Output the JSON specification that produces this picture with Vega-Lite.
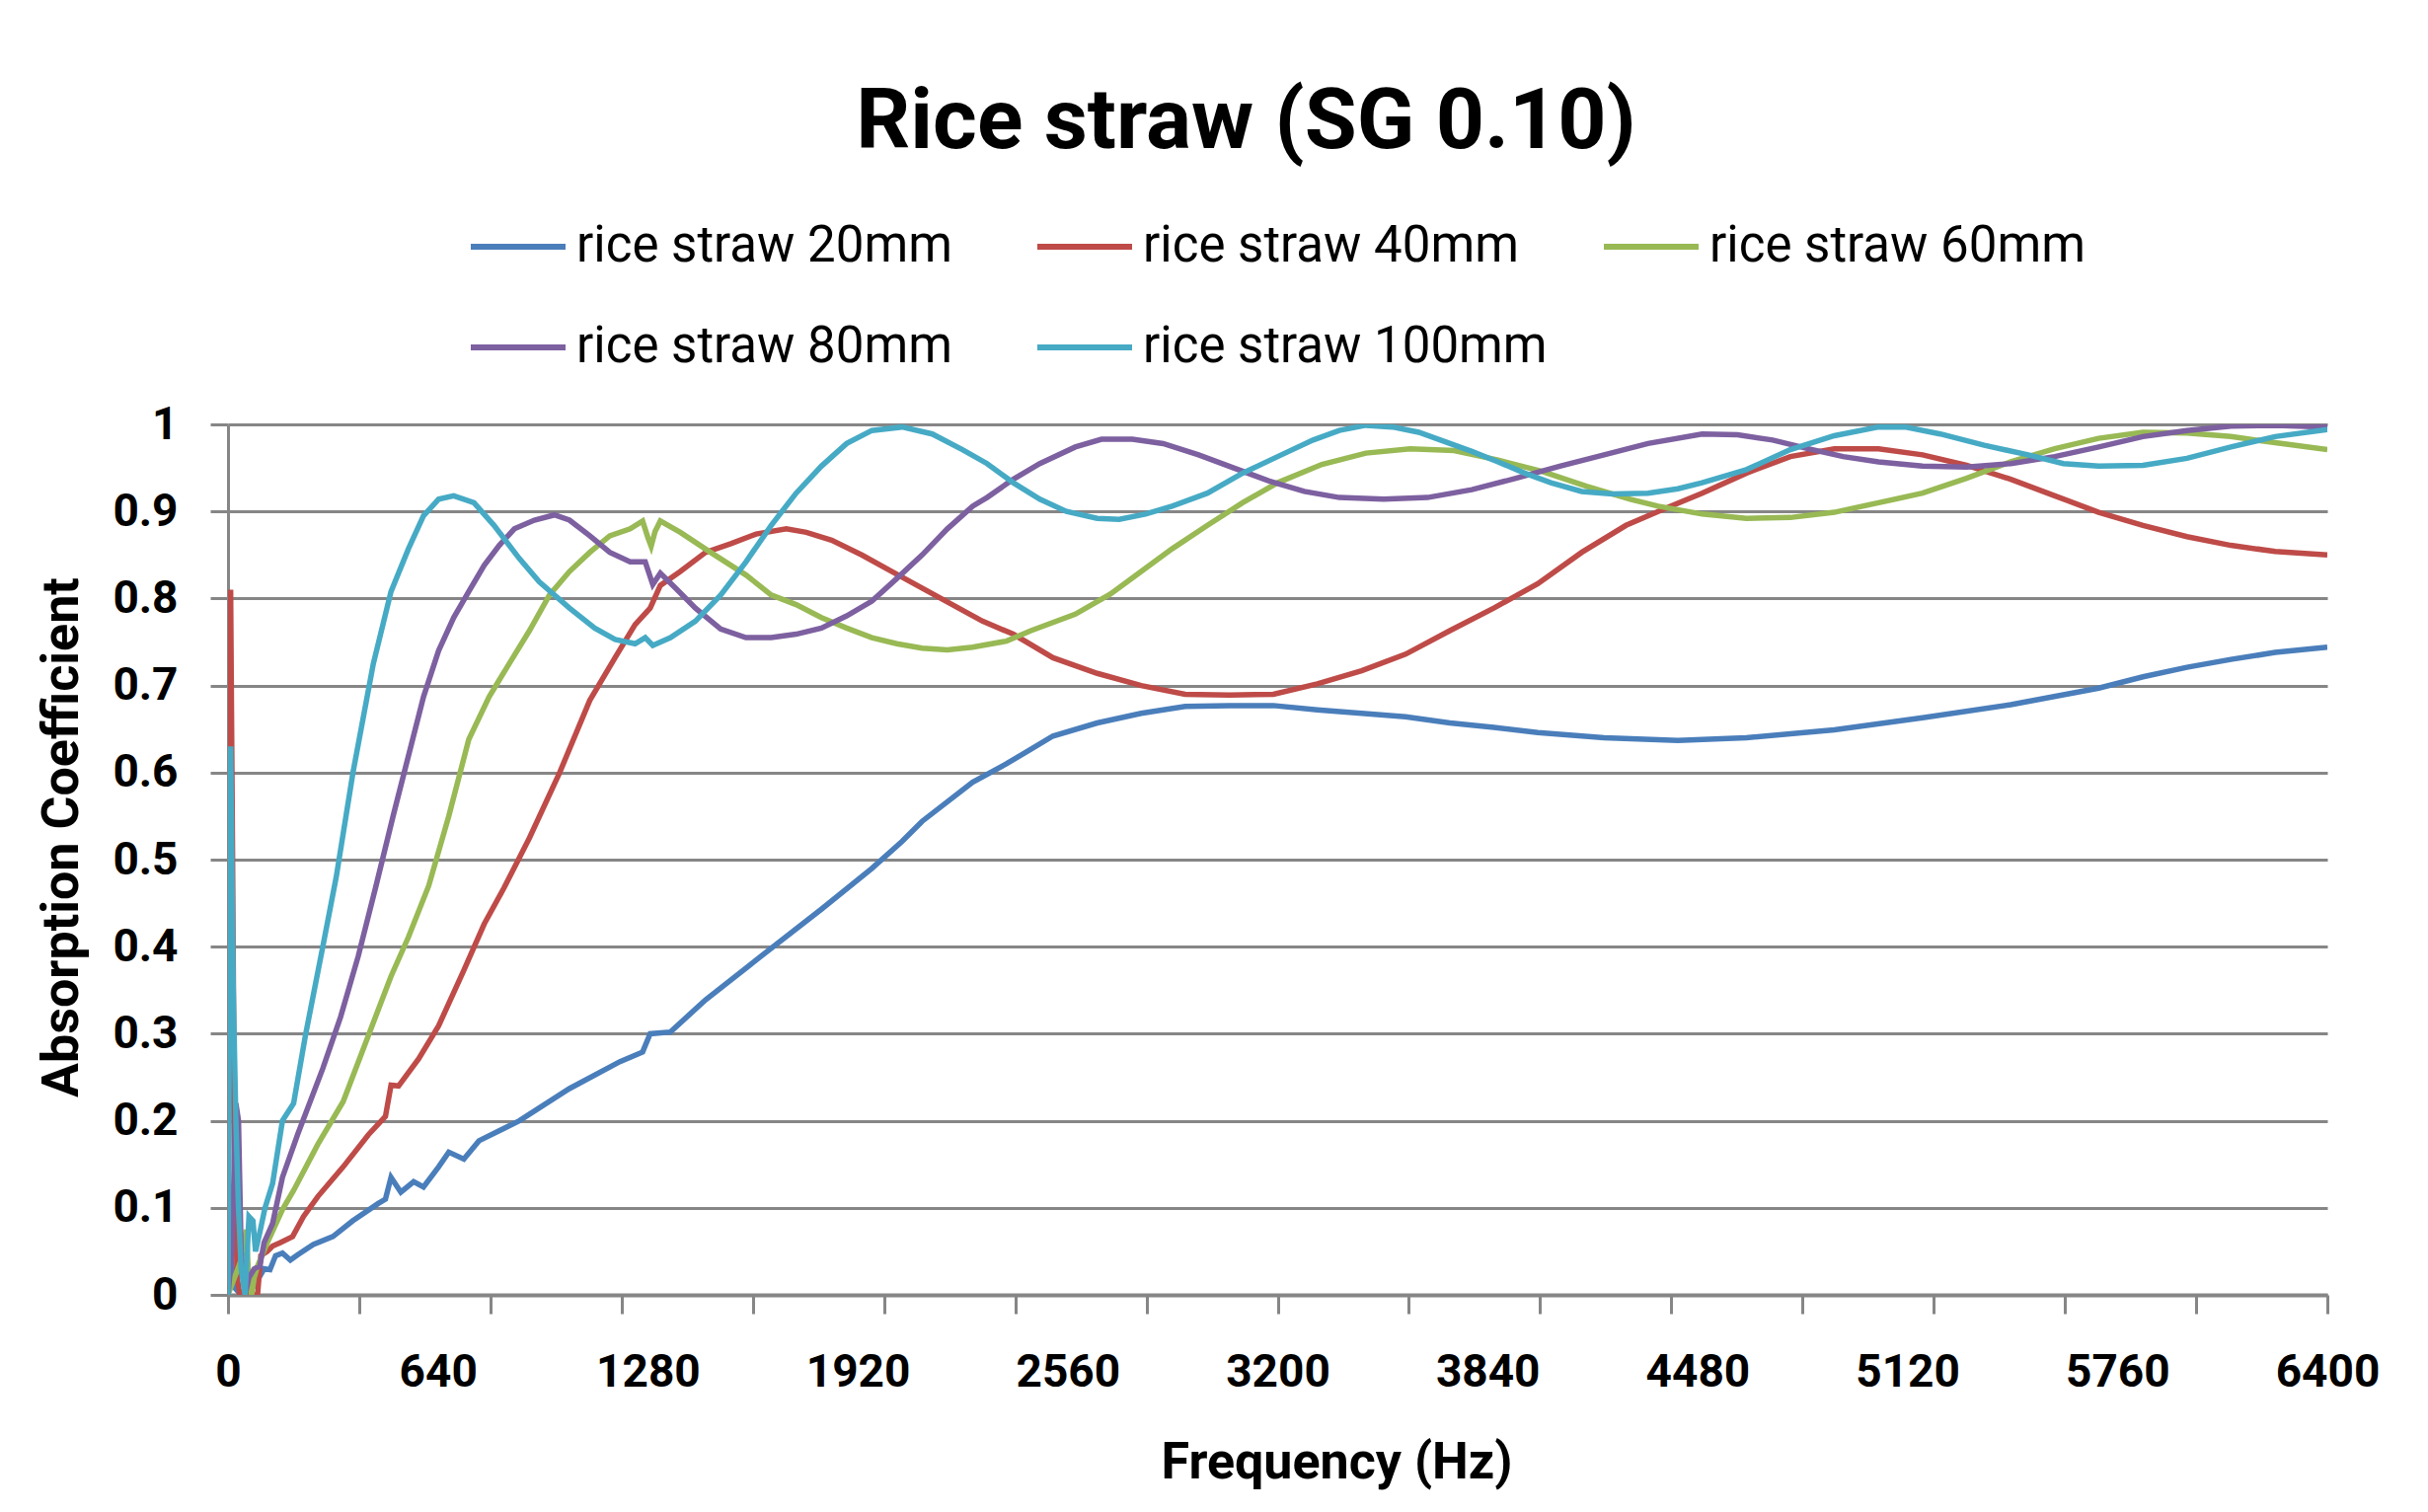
{
 "$schema": "https://vega.github.io/schema/vega-lite/v6.json",
 "width": 2127, "height": 882,
 "autosize": {"type": "none"},
 "padding": {"left": 231, "top": 430, "right": 102, "bottom": 220},
 "background": "white",
 "title": {"text": "Rice straw (SG 0.10)", "font": "Roboto", "fontSize": 86, "fontWeight": "bold", "color": "black", "anchor": "middle", "frame": "group", "dx": -32, "offset": -37, "baseline": "alphabetic"},
 "data": {"values": [
  {"s":"rice straw 20mm","f":0,"a":0},{"s":"rice straw 20mm","f":8,"a":0.06},{"s":"rice straw 20mm","f":16,"a":0.01},{"s":"rice straw 20mm","f":40,"a":0},{"s":"rice straw 20mm","f":80,"a":0.01},{"s":"rice straw 20mm","f":110,"a":0.03},{"s":"rice straw 20mm","f":128,"a":0.029},{"s":"rice straw 20mm","f":145,"a":0.045},{"s":"rice straw 20mm","f":166,"a":0.048},{"s":"rice straw 20mm","f":190,"a":0.04},{"s":"rice straw 20mm","f":212,"a":0.046},{"s":"rice straw 20mm","f":260,"a":0.058},{"s":"rice straw 20mm","f":320,"a":0.067},{"s":"rice straw 20mm","f":380,"a":0.085},{"s":"rice straw 20mm","f":458,"a":0.105},{"s":"rice straw 20mm","f":480,"a":0.11},{"s":"rice straw 20mm","f":497,"a":0.135},{"s":"rice straw 20mm","f":527,"a":0.118},{"s":"rice straw 20mm","f":566,"a":0.13},{"s":"rice straw 20mm","f":596,"a":0.124},{"s":"rice straw 20mm","f":642,"a":0.147},{"s":"rice straw 20mm","f":673,"a":0.164},{"s":"rice straw 20mm","f":719,"a":0.156},{"s":"rice straw 20mm","f":765,"a":0.177},{"s":"rice straw 20mm","f":888,"a":0.2},{"s":"rice straw 20mm","f":1041,"a":0.237},{"s":"rice straw 20mm","f":1195,"a":0.268},{"s":"rice straw 20mm","f":1264,"a":0.279},{"s":"rice straw 20mm","f":1287,"a":0.3},{"s":"rice straw 20mm","f":1349,"a":0.302},{"s":"rice straw 20mm","f":1456,"a":0.339},{"s":"rice straw 20mm","f":1625,"a":0.389},{"s":"rice straw 20mm","f":1809,"a":0.443},{"s":"rice straw 20mm","f":1963,"a":0.49},{"s":"rice straw 20mm","f":2055,"a":0.521},{"s":"rice straw 20mm","f":2116,"a":0.544},{"s":"rice straw 20mm","f":2270,"a":0.589},{"s":"rice straw 20mm","f":2373,"a":0.61},{"s":"rice straw 20mm","f":2515,"a":0.642},{"s":"rice straw 20mm","f":2650,"a":0.657},{"s":"rice straw 20mm","f":2784,"a":0.668},{"s":"rice straw 20mm","f":2918,"a":0.676},{"s":"rice straw 20mm","f":3053,"a":0.677},{"s":"rice straw 20mm","f":3187,"a":0.677},{"s":"rice straw 20mm","f":3321,"a":0.672},{"s":"rice straw 20mm","f":3456,"a":0.668},{"s":"rice straw 20mm","f":3590,"a":0.664},{"s":"rice straw 20mm","f":3725,"a":0.657},{"s":"rice straw 20mm","f":3859,"a":0.652},{"s":"rice straw 20mm","f":3993,"a":0.646},{"s":"rice straw 20mm","f":4195,"a":0.64},{"s":"rice straw 20mm","f":4420,"a":0.637},{"s":"rice straw 20mm","f":4629,"a":0.64},{"s":"rice straw 20mm","f":4897,"a":0.649},{"s":"rice straw 20mm","f":5166,"a":0.663},{"s":"rice straw 20mm","f":5435,"a":0.678},{"s":"rice straw 20mm","f":5703,"a":0.697},{"s":"rice straw 20mm","f":5838,"a":0.71},{"s":"rice straw 20mm","f":5972,"a":0.721},{"s":"rice straw 20mm","f":6106,"a":0.73},{"s":"rice straw 20mm","f":6241,"a":0.738},{"s":"rice straw 20mm","f":6400,"a":0.744},

  {"s":"rice straw 40mm","f":0,"a":0},{"s":"rice straw 40mm","f":8,"a":0.81},{"s":"rice straw 40mm","f":14,"a":0.5},{"s":"rice straw 40mm","f":20,"a":0.15},{"s":"rice straw 40mm","f":28,"a":0.02},{"s":"rice straw 40mm","f":36,"a":0},{"s":"rice straw 40mm","f":90,"a":0},{"s":"rice straw 40mm","f":100,"a":0.045},{"s":"rice straw 40mm","f":120,"a":0.05},{"s":"rice straw 40mm","f":136,"a":0.056},{"s":"rice straw 40mm","f":160,"a":0.06},{"s":"rice straw 40mm","f":197,"a":0.067},{"s":"rice straw 40mm","f":230,"a":0.09},{"s":"rice straw 40mm","f":274,"a":0.113},{"s":"rice straw 40mm","f":351,"a":0.147},{"s":"rice straw 40mm","f":428,"a":0.184},{"s":"rice straw 40mm","f":480,"a":0.205},{"s":"rice straw 40mm","f":497,"a":0.241},{"s":"rice straw 40mm","f":520,"a":0.24},{"s":"rice straw 40mm","f":581,"a":0.271},{"s":"rice straw 40mm","f":642,"a":0.309},{"s":"rice straw 40mm","f":719,"a":0.373},{"s":"rice straw 40mm","f":781,"a":0.426},{"s":"rice straw 40mm","f":842,"a":0.468},{"s":"rice straw 40mm","f":919,"a":0.525},{"s":"rice straw 40mm","f":1011,"a":0.6},{"s":"rice straw 40mm","f":1103,"a":0.683},{"s":"rice straw 40mm","f":1180,"a":0.732},{"s":"rice straw 40mm","f":1241,"a":0.77},{"s":"rice straw 40mm","f":1287,"a":0.789},{"s":"rice straw 40mm","f":1318,"a":0.815},{"s":"rice straw 40mm","f":1379,"a":0.831},{"s":"rice straw 40mm","f":1456,"a":0.853},{"s":"rice straw 40mm","f":1533,"a":0.863},{"s":"rice straw 40mm","f":1610,"a":0.874},{"s":"rice straw 40mm","f":1702,"a":0.88},{"s":"rice straw 40mm","f":1763,"a":0.876},{"s":"rice straw 40mm","f":1840,"a":0.867},{"s":"rice straw 40mm","f":1932,"a":0.85},{"s":"rice straw 40mm","f":2024,"a":0.831},{"s":"rice straw 40mm","f":2116,"a":0.812},{"s":"rice straw 40mm","f":2208,"a":0.793},{"s":"rice straw 40mm","f":2300,"a":0.774},{"s":"rice straw 40mm","f":2394,"a":0.759},{"s":"rice straw 40mm","f":2515,"a":0.732},{"s":"rice straw 40mm","f":2650,"a":0.714},{"s":"rice straw 40mm","f":2784,"a":0.7},{"s":"rice straw 40mm","f":2918,"a":0.69},{"s":"rice straw 40mm","f":3053,"a":0.689},{"s":"rice straw 40mm","f":3187,"a":0.69},{"s":"rice straw 40mm","f":3321,"a":0.702},{"s":"rice straw 40mm","f":3456,"a":0.717},{"s":"rice straw 40mm","f":3590,"a":0.736},{"s":"rice straw 40mm","f":3725,"a":0.763},{"s":"rice straw 40mm","f":3859,"a":0.789},{"s":"rice straw 40mm","f":3993,"a":0.817},{"s":"rice straw 40mm","f":4127,"a":0.853},{"s":"rice straw 40mm","f":4262,"a":0.884},{"s":"rice straw 40mm","f":4360,"a":0.9},{"s":"rice straw 40mm","f":4494,"a":0.921},{"s":"rice straw 40mm","f":4629,"a":0.944},{"s":"rice straw 40mm","f":4763,"a":0.963},{"s":"rice straw 40mm","f":4897,"a":0.972},{"s":"rice straw 40mm","f":5032,"a":0.972},{"s":"rice straw 40mm","f":5166,"a":0.965},{"s":"rice straw 40mm","f":5300,"a":0.953},{"s":"rice straw 40mm","f":5435,"a":0.937},{"s":"rice straw 40mm","f":5569,"a":0.918},{"s":"rice straw 40mm","f":5703,"a":0.899},{"s":"rice straw 40mm","f":5838,"a":0.884},{"s":"rice straw 40mm","f":5972,"a":0.871},{"s":"rice straw 40mm","f":6106,"a":0.861},{"s":"rice straw 40mm","f":6241,"a":0.854},{"s":"rice straw 40mm","f":6400,"a":0.85},

  {"s":"rice straw 60mm","f":0,"a":0},{"s":"rice straw 60mm","f":20,"a":0.02},{"s":"rice straw 60mm","f":40,"a":0.04},{"s":"rice straw 60mm","f":56,"a":0.075},{"s":"rice straw 60mm","f":64,"a":0.01},{"s":"rice straw 60mm","f":72,"a":0},{"s":"rice straw 60mm","f":80,"a":0.02},{"s":"rice straw 60mm","f":90,"a":0.033},{"s":"rice straw 60mm","f":120,"a":0.06},{"s":"rice straw 60mm","f":166,"a":0.098},{"s":"rice straw 60mm","f":200,"a":0.12},{"s":"rice straw 60mm","f":274,"a":0.173},{"s":"rice straw 60mm","f":351,"a":0.222},{"s":"rice straw 60mm","f":428,"a":0.298},{"s":"rice straw 60mm","f":497,"a":0.366},{"s":"rice straw 60mm","f":550,"a":0.411},{"s":"rice straw 60mm","f":612,"a":0.47},{"s":"rice straw 60mm","f":673,"a":0.55},{"s":"rice straw 60mm","f":734,"a":0.638},{"s":"rice straw 60mm","f":796,"a":0.687},{"s":"rice straw 60mm","f":857,"a":0.725},{"s":"rice straw 60mm","f":919,"a":0.763},{"s":"rice straw 60mm","f":980,"a":0.804},{"s":"rice straw 60mm","f":1041,"a":0.831},{"s":"rice straw 60mm","f":1103,"a":0.853},{"s":"rice straw 60mm","f":1164,"a":0.872},{"s":"rice straw 60mm","f":1226,"a":0.88},{"s":"rice straw 60mm","f":1264,"a":0.889},{"s":"rice straw 60mm","f":1280,"a":0.87},{"s":"rice straw 60mm","f":1290,"a":0.86},{"s":"rice straw 60mm","f":1302,"a":0.877},{"s":"rice straw 60mm","f":1318,"a":0.889},{"s":"rice straw 60mm","f":1379,"a":0.876},{"s":"rice straw 60mm","f":1471,"a":0.853},{"s":"rice straw 60mm","f":1579,"a":0.827},{"s":"rice straw 60mm","f":1656,"a":0.804},{"s":"rice straw 60mm","f":1732,"a":0.793},{"s":"rice straw 60mm","f":1809,"a":0.778},{"s":"rice straw 60mm","f":1886,"a":0.766},{"s":"rice straw 60mm","f":1963,"a":0.755},{"s":"rice straw 60mm","f":2039,"a":0.748},{"s":"rice straw 60mm","f":2116,"a":0.743},{"s":"rice straw 60mm","f":2193,"a":0.741},{"s":"rice straw 60mm","f":2270,"a":0.744},{"s":"rice straw 60mm","f":2373,"a":0.751},{"s":"rice straw 60mm","f":2448,"a":0.763},{"s":"rice straw 60mm","f":2583,"a":0.782},{"s":"rice straw 60mm","f":2690,"a":0.805},{"s":"rice straw 60mm","f":2784,"a":0.831},{"s":"rice straw 60mm","f":2878,"a":0.857},{"s":"rice straw 60mm","f":2986,"a":0.884},{"s":"rice straw 60mm","f":3093,"a":0.91},{"s":"rice straw 60mm","f":3200,"a":0.933},{"s":"rice straw 60mm","f":3335,"a":0.954},{"s":"rice straw 60mm","f":3469,"a":0.967},{"s":"rice straw 60mm","f":3604,"a":0.972},{"s":"rice straw 60mm","f":3738,"a":0.97},{"s":"rice straw 60mm","f":3872,"a":0.959},{"s":"rice straw 60mm","f":4006,"a":0.946},{"s":"rice straw 60mm","f":4141,"a":0.929},{"s":"rice straw 60mm","f":4275,"a":0.914},{"s":"rice straw 60mm","f":4360,"a":0.906},{"s":"rice straw 60mm","f":4494,"a":0.897},{"s":"rice straw 60mm","f":4629,"a":0.892},{"s":"rice straw 60mm","f":4763,"a":0.893},{"s":"rice straw 60mm","f":4897,"a":0.899},{"s":"rice straw 60mm","f":5032,"a":0.91},{"s":"rice straw 60mm","f":5166,"a":0.921},{"s":"rice straw 60mm","f":5300,"a":0.938},{"s":"rice straw 60mm","f":5435,"a":0.957},{"s":"rice straw 60mm","f":5569,"a":0.972},{"s":"rice straw 60mm","f":5703,"a":0.984},{"s":"rice straw 60mm","f":5838,"a":0.991},{"s":"rice straw 60mm","f":5972,"a":0.99},{"s":"rice straw 60mm","f":6106,"a":0.986},{"s":"rice straw 60mm","f":6241,"a":0.979},{"s":"rice straw 60mm","f":6400,"a":0.971},

  {"s":"rice straw 80mm","f":0,"a":0},{"s":"rice straw 80mm","f":12,"a":0.05},{"s":"rice straw 80mm","f":24,"a":0.22},{"s":"rice straw 80mm","f":32,"a":0.2},{"s":"rice straw 80mm","f":40,"a":0.05},{"s":"rice straw 80mm","f":52,"a":0},{"s":"rice straw 80mm","f":64,"a":0.02},{"s":"rice straw 80mm","f":80,"a":0.03},{"s":"rice straw 80mm","f":97,"a":0.033},{"s":"rice straw 80mm","f":110,"a":0.06},{"s":"rice straw 80mm","f":136,"a":0.082},{"s":"rice straw 80mm","f":166,"a":0.135},{"s":"rice straw 80mm","f":212,"a":0.184},{"s":"rice straw 80mm","f":289,"a":0.26},{"s":"rice straw 80mm","f":343,"a":0.319},{"s":"rice straw 80mm","f":397,"a":0.389},{"s":"rice straw 80mm","f":450,"a":0.468},{"s":"rice straw 80mm","f":504,"a":0.551},{"s":"rice straw 80mm","f":550,"a":0.619},{"s":"rice straw 80mm","f":596,"a":0.687},{"s":"rice straw 80mm","f":642,"a":0.74},{"s":"rice straw 80mm","f":688,"a":0.778},{"s":"rice straw 80mm","f":734,"a":0.808},{"s":"rice straw 80mm","f":781,"a":0.838},{"s":"rice straw 80mm","f":827,"a":0.861},{"s":"rice straw 80mm","f":873,"a":0.88},{"s":"rice straw 80mm","f":934,"a":0.89},{"s":"rice straw 80mm","f":995,"a":0.896},{"s":"rice straw 80mm","f":1041,"a":0.89},{"s":"rice straw 80mm","f":1103,"a":0.872},{"s":"rice straw 80mm","f":1164,"a":0.853},{"s":"rice straw 80mm","f":1226,"a":0.842},{"s":"rice straw 80mm","f":1272,"a":0.842},{"s":"rice straw 80mm","f":1295,"a":0.816},{"s":"rice straw 80mm","f":1318,"a":0.829},{"s":"rice straw 80mm","f":1364,"a":0.812},{"s":"rice straw 80mm","f":1425,"a":0.789},{"s":"rice straw 80mm","f":1502,"a":0.765},{"s":"rice straw 80mm","f":1579,"a":0.755},{"s":"rice straw 80mm","f":1656,"a":0.755},{"s":"rice straw 80mm","f":1732,"a":0.759},{"s":"rice straw 80mm","f":1809,"a":0.766},{"s":"rice straw 80mm","f":1886,"a":0.78},{"s":"rice straw 80mm","f":1963,"a":0.797},{"s":"rice straw 80mm","f":2039,"a":0.823},{"s":"rice straw 80mm","f":2116,"a":0.85},{"s":"rice straw 80mm","f":2193,"a":0.88},{"s":"rice straw 80mm","f":2270,"a":0.906},{"s":"rice straw 80mm","f":2314,"a":0.916},{"s":"rice straw 80mm","f":2394,"a":0.937},{"s":"rice straw 80mm","f":2475,"a":0.955},{"s":"rice straw 80mm","f":2583,"a":0.974},{"s":"rice straw 80mm","f":2663,"a":0.983},{"s":"rice straw 80mm","f":2757,"a":0.983},{"s":"rice straw 80mm","f":2851,"a":0.978},{"s":"rice straw 80mm","f":2959,"a":0.965},{"s":"rice straw 80mm","f":3066,"a":0.95},{"s":"rice straw 80mm","f":3174,"a":0.935},{"s":"rice straw 80mm","f":3281,"a":0.923},{"s":"rice straw 80mm","f":3388,"a":0.916},{"s":"rice straw 80mm","f":3523,"a":0.914},{"s":"rice straw 80mm","f":3657,"a":0.916},{"s":"rice straw 80mm","f":3792,"a":0.925},{"s":"rice straw 80mm","f":3926,"a":0.938},{"s":"rice straw 80mm","f":4060,"a":0.952},{"s":"rice straw 80mm","f":4195,"a":0.965},{"s":"rice straw 80mm","f":4329,"a":0.978},{"s":"rice straw 80mm","f":4494,"a":0.989},{"s":"rice straw 80mm","f":4602,"a":0.988},{"s":"rice straw 80mm","f":4709,"a":0.982},{"s":"rice straw 80mm","f":4817,"a":0.972},{"s":"rice straw 80mm","f":4924,"a":0.963},{"s":"rice straw 80mm","f":5032,"a":0.957},{"s":"rice straw 80mm","f":5166,"a":0.952},{"s":"rice straw 80mm","f":5300,"a":0.951},{"s":"rice straw 80mm","f":5435,"a":0.955},{"s":"rice straw 80mm","f":5569,"a":0.963},{"s":"rice straw 80mm","f":5703,"a":0.974},{"s":"rice straw 80mm","f":5838,"a":0.986},{"s":"rice straw 80mm","f":5972,"a":0.993},{"s":"rice straw 80mm","f":6106,"a":0.998},{"s":"rice straw 80mm","f":6241,"a":0.999},{"s":"rice straw 80mm","f":6400,"a":0.997},

  {"s":"rice straw 100mm","f":0,"a":0},{"s":"rice straw 100mm","f":8,"a":0.63},{"s":"rice straw 100mm","f":16,"a":0.35},{"s":"rice straw 100mm","f":24,"a":0.2},{"s":"rice straw 100mm","f":32,"a":0.1},{"s":"rice straw 100mm","f":40,"a":0.03},{"s":"rice straw 100mm","f":52,"a":0},{"s":"rice straw 100mm","f":64,"a":0.09},{"s":"rice straw 100mm","f":76,"a":0.085},{"s":"rice straw 100mm","f":84,"a":0.05},{"s":"rice straw 100mm","f":96,"a":0.07},{"s":"rice straw 100mm","f":113,"a":0.1},{"s":"rice straw 100mm","f":136,"a":0.128},{"s":"rice straw 100mm","f":166,"a":0.2},{"s":"rice straw 100mm","f":200,"a":0.22},{"s":"rice straw 100mm","f":236,"a":0.298},{"s":"rice straw 100mm","f":289,"a":0.4},{"s":"rice straw 100mm","f":330,"a":0.48},{"s":"rice straw 100mm","f":381,"a":0.6},{"s":"rice straw 100mm","f":443,"a":0.725},{"s":"rice straw 100mm","f":497,"a":0.808},{"s":"rice straw 100mm","f":550,"a":0.857},{"s":"rice straw 100mm","f":596,"a":0.895},{"s":"rice straw 100mm","f":642,"a":0.914},{"s":"rice straw 100mm","f":688,"a":0.918},{"s":"rice straw 100mm","f":750,"a":0.91},{"s":"rice straw 100mm","f":811,"a":0.884},{"s":"rice straw 100mm","f":888,"a":0.846},{"s":"rice straw 100mm","f":949,"a":0.819},{"s":"rice straw 100mm","f":1041,"a":0.789},{"s":"rice straw 100mm","f":1118,"a":0.766},{"s":"rice straw 100mm","f":1180,"a":0.753},{"s":"rice straw 100mm","f":1241,"a":0.748},{"s":"rice straw 100mm","f":1272,"a":0.755},{"s":"rice straw 100mm","f":1295,"a":0.746},{"s":"rice straw 100mm","f":1349,"a":0.755},{"s":"rice straw 100mm","f":1425,"a":0.774},{"s":"rice straw 100mm","f":1502,"a":0.804},{"s":"rice straw 100mm","f":1579,"a":0.842},{"s":"rice straw 100mm","f":1656,"a":0.884},{"s":"rice straw 100mm","f":1732,"a":0.921},{"s":"rice straw 100mm","f":1809,"a":0.952},{"s":"rice straw 100mm","f":1886,"a":0.978},{"s":"rice straw 100mm","f":1963,"a":0.993},{"s":"rice straw 100mm","f":2055,"a":0.997},{"s":"rice straw 100mm","f":2147,"a":0.989},{"s":"rice straw 100mm","f":2239,"a":0.971},{"s":"rice straw 100mm","f":2314,"a":0.955},{"s":"rice straw 100mm","f":2394,"a":0.933},{"s":"rice straw 100mm","f":2475,"a":0.914},{"s":"rice straw 100mm","f":2556,"a":0.9},{"s":"rice straw 100mm","f":2650,"a":0.892},{"s":"rice straw 100mm","f":2717,"a":0.891},{"s":"rice straw 100mm","f":2797,"a":0.897},{"s":"rice straw 100mm","f":2878,"a":0.906},{"s":"rice straw 100mm","f":2986,"a":0.921},{"s":"rice straw 100mm","f":3093,"a":0.944},{"s":"rice straw 100mm","f":3200,"a":0.963},{"s":"rice straw 100mm","f":3308,"a":0.982},{"s":"rice straw 100mm","f":3388,"a":0.993},{"s":"rice straw 100mm","f":3469,"a":0.999},{"s":"rice straw 100mm","f":3550,"a":0.997},{"s":"rice straw 100mm","f":3630,"a":0.991},{"s":"rice straw 100mm","f":3711,"a":0.98},{"s":"rice straw 100mm","f":3792,"a":0.969},{"s":"rice straw 100mm","f":3872,"a":0.957},{"s":"rice straw 100mm","f":3953,"a":0.944},{"s":"rice straw 100mm","f":4033,"a":0.933},{"s":"rice straw 100mm","f":4127,"a":0.923},{"s":"rice straw 100mm","f":4221,"a":0.92},{"s":"rice straw 100mm","f":4329,"a":0.921},{"s":"rice straw 100mm","f":4420,"a":0.926},{"s":"rice straw 100mm","f":4494,"a":0.933},{"s":"rice straw 100mm","f":4629,"a":0.948},{"s":"rice straw 100mm","f":4763,"a":0.971},{"s":"rice straw 100mm","f":4897,"a":0.987},{"s":"rice straw 100mm","f":5032,"a":0.997},{"s":"rice straw 100mm","f":5112,"a":0.997},{"s":"rice straw 100mm","f":5220,"a":0.989},{"s":"rice straw 100mm","f":5354,"a":0.976},{"s":"rice straw 100mm","f":5488,"a":0.965},{"s":"rice straw 100mm","f":5595,"a":0.955},{"s":"rice straw 100mm","f":5703,"a":0.952},{"s":"rice straw 100mm","f":5838,"a":0.953},{"s":"rice straw 100mm","f":5972,"a":0.961},{"s":"rice straw 100mm","f":6106,"a":0.974},{"s":"rice straw 100mm","f":6241,"a":0.986},{"s":"rice straw 100mm","f":6400,"a":0.994}
 ]},
 "mark": {"type": "line", "strokeWidth": 5.5, "clip": true},
 "encoding": {
  "x": {"field": "f", "type": "quantitative", "scale": {"domain": [0, 6400], "nice": false, "zero": true},
   "axis": {"values": [0,400,640,800,1200,1280,1600,1920,2000,2400,2560,2800,3200,3600,3840,4000,4400,4480,4800,5120,5200,5600,5760,6000,6400],
    "format": "d", "labelExpr": "datum.value % 640 === 0 ? datum.label : ''",
    "tickOpacity": {"condition": {"test": "datum.value % 400 === 0", "value": 1}, "value": 0},
    "tickSize": 19, "tickWidth": 3, "tickColor": "#868686", "domainColor": "#868686", "domainWidth": 4, "grid": false,
    "labelFont": "Roboto", "labelFontSize": 46, "labelFontWeight": "bold", "labelColor": "black", "labelPadding": 37, "labelOverlap": false, "labelFlush": false,
    "title": "Frequency (Hz)", "titleFont": "Roboto", "titleFontSize": 52, "titleFontWeight": "bold", "titleColor": "black",
    "titleX": 1123, "titleY": 185, "titleBaseline": "alphabetic", "titleAlign": "center"}},
  "y": {"field": "a", "type": "quantitative", "scale": {"domain": [0, 1], "nice": false},
   "axis": {"values": [0,0.1,0.2,0.3,0.4,0.5,0.6,0.7,0.8,0.9,1], "format": "~g",
    "grid": true, "gridColor": "#868686", "gridWidth": 3, "domainColor": "#868686", "domainWidth": 3,
    "tickColor": "#868686", "tickWidth": 3, "tickSize": 18,
    "labelFont": "Roboto", "labelFontSize": 46, "labelFontWeight": "bold", "labelColor": "black", "labelPadding": 33,
    "title": "Absorption Coefficient", "titleFont": "Roboto", "titleFontSize": 52, "titleFontWeight": "bold", "titleColor": "black",
    "titleX": -153, "titleY": 418, "titleAngle": -90, "titleBaseline": "alphabetic", "titleAlign": "center"}},
  "color": {"field": "s", "type": "nominal",
   "scale": {"domain": ["rice straw 20mm","rice straw 40mm","rice straw 60mm","rice straw 80mm","rice straw 100mm"],
             "range": ["#4A7EBB","#BE4B48","#98B954","#7D60A0","#46AAC5"]},
   "legend": {"title": null, "orient": "none", "legendX": 243, "legendY": -231, "direction": "horizontal", "columns": 3,
    "symbolType": "stroke", "symbolSize": 9216, "symbolStrokeWidth": 6, "labelFont": "Roboto", "labelFontSize": 51, "labelColor": "black",
    "labelOffset": 8, "columnPadding": 45, "rowPadding": 26, "gridAlign": "all", "padding": 0, "labelLimit": 1000}}
 },
 "config": {"view": {"stroke": null}, "font": "Roboto"}
}
